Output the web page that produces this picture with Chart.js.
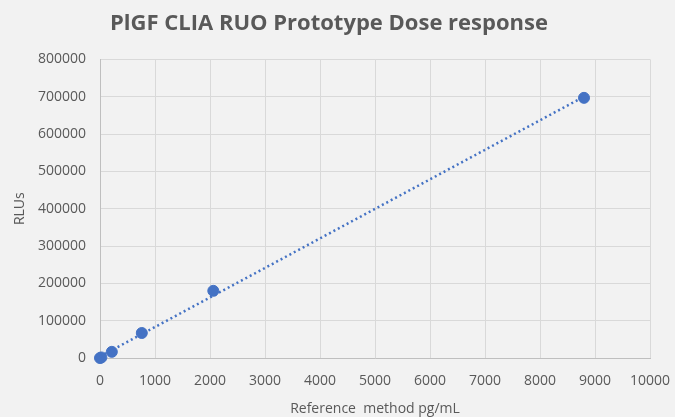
<!DOCTYPE html>
<html>
<head>
<meta charset="utf-8">
<script src="https://cdn.jsdelivr.net/npm/chart.js@4/dist/chart.umd.min.js"></script>
<style>
  html, body { margin: 0; padding: 0; background: #f2f2f2; }
  #wrap { width: 675px; height: 417px; }
</style>
</head>
<body>
<div id="wrap"><canvas id="c" width="675" height="417"></canvas></div>
<script>
const doseX = [0, 25, 215, 760, 2060, 8800];
const rluY = [0, 1500, 16500, 67000, 180000, 697000];
const xTicks = [0, 1000, 2000, 3000, 4000, 5000, 6000, 7000, 8000, 9000, 10000];
const yTicks = [0, 100000, 200000, 300000, 400000, 500000, 600000, 700000, 800000];

// linear trendline (least squares), drawn over the data range
function linearFit(xs, ys) {
  const n = xs.length;
  const mx = xs.reduce((a, b) => a + b, 0) / n;
  const my = ys.reduce((a, b) => a + b, 0) / n;
  let sxy = 0, sxx = 0;
  for (let i = 0; i < n; i++) { sxy += (xs[i] - mx) * (ys[i] - my); sxx += (xs[i] - mx) ** 2; }
  const m = sxy / sxx;
  return { m, b: my - m * mx };
}
const fit = linearFit(doseX, rluY);
const trendX = [Math.min(...doseX), Math.max(...doseX)];
const trend = trendX.map(x => ({ x, y: fit.m * x + fit.b }));

const TEXT = "#595959";
const GRID = "#d9d9d9";
const BLUE = "#4472c4";

Chart.defaults.font.family = "'Open Sans', 'Noto Sans', sans-serif";
Chart.defaults.color = TEXT;

new Chart(document.getElementById("c"), {
  type: "scatter",
  data: {
    datasets: [
      {
        label: "Trend",
        data: trend,
        showLine: true,
        borderColor: BLUE,
        borderWidth: 2.5,
        borderDash: [2, 3],
        pointRadius: 0,
        fill: false,
        clip: false,
      },
      {
        label: "RLUs",
        data: doseX.map((x, i) => ({ x, y: rluY[i] })),
        backgroundColor: BLUE,
        borderColor: BLUE,
        pointRadius: 5.5,
        clip: false,
      },
    ],
  },
  options: {
    responsive: false,
    animation: false,
    layout: { padding: { left: 8, right: 25, top: 10, bottom: 0 } },
    plugins: {
      legend: { display: false },
      tooltip: { enabled: false },
      title: {
        display: true,
        text: "PlGF CLIA RUO Prototype Dose response",
        color: TEXT,
        font: { size: 22, weight: "bold" },
        padding: { top: 1, bottom: 22 },
      },
    },
    scales: {
      x: {
        type: "linear",
        min: 0, max: 10000,
        afterBuildTicks: (s) => { s.ticks = xTicks.map(v => ({ value: v })); },
        afterFit: (s) => { s.height = 59; s.paddingLeft = 0; s.paddingRight = 0; },
        grid: { color: GRID, drawTicks: false },
        border: { color: "#bfbfbf" },
        ticks: { font: { size: 14 }, padding: 15, maxRotation: 0, callback: v => String(v) },
        title: { display: true, text: "Reference  method pg/mL", font: { size: 14 }, padding: { top: 4, bottom: 0 } },
      },
      y: {
        type: "linear",
        min: 0, max: 800000,
        afterBuildTicks: (s) => { s.ticks = yTicks.map(v => ({ value: v })); },
        afterFit: (s) => { s.width = 92; },
        grid: { color: GRID, drawTicks: false },
        border: { color: "#bfbfbf" },
        ticks: { font: { size: 14 }, padding: 14, callback: v => String(v) },
        title: { display: true, text: "RLUs", font: { size: 14 }, padding: { bottom: 0 } },
      },
    },
  },
});
</script>
</body>
</html>
